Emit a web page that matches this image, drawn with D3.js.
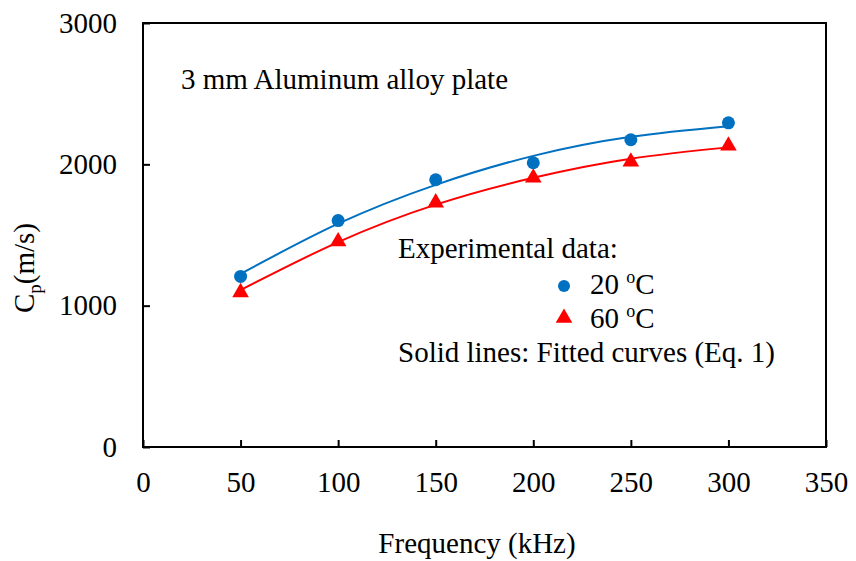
<!DOCTYPE html>
<html><head><meta charset="utf-8">
<script src="https://cdn.jsdelivr.net/npm/d3@7"></script>
<style>body{margin:0;background:#fff}</style>
</head><body><svg id="c" width="856" height="561"></svg>
<script>
const freq = [50, 100, 150, 200, 250, 300];
const exp20 = [1207, 1602, 1891, 2011, 2174, 2294];
const exp60 = [1094, 1454, 1729, 1905, 2018, 2131];
const fit20 = [1225, 1580, 1855, 2060, 2195, 2270];
const fit60 = [1110, 1450, 1715, 1905, 2040, 2120];
const xTicks = [0, 50, 100, 150, 200, 250, 300, 350];
const yTicks = [0, 1000, 2000, 3000];

const FONT = "'Times New Roman', Times, 'Liberation Serif', Tinos, 'Noto Serif', 'DejaVu Serif', serif";
const svg = d3.select("#c").attr("font-family", FONT);
const L = 143, R = 826, T = 23, B = 447;
const x = d3.scaleLinear().domain([0, 350]).range([L, R]);
const y = d3.scaleLinear().domain([0, 3000]).range([B, T]);
const FS = 29;

svg.append("rect").attr("x", L).attr("y", T).attr("width", R - L).attr("height", B - T)
  .attr("fill", "none").attr("stroke", "#000").attr("stroke-width", 2);

const xa = svg.append("g").attr("transform", `translate(0,${B})`)
  .call(d3.axisBottom(x).tickValues(xTicks).tickSize(-7).tickPadding(24).tickFormat(d3.format("d")));
const ya = svg.append("g").attr("transform", `translate(${L},0)`)
  .call(d3.axisLeft(y).tickValues(yTicks).tickSize(-7).tickPadding(26).tickFormat(d3.format("d")));
[xa, ya].forEach(a => {
  a.attr("font-family", FONT);
  a.select(".domain").remove();
  a.selectAll("line").attr("stroke", "#000").attr("stroke-width", 2);
  a.selectAll("text").attr("font-size", FS).attr("fill", "#000");
});

const line = d3.line().x((d, i) => x(freq[i])).y(d => y(d)).curve(d3.curveNatural);
svg.append("path").attr("d", line(fit20)).attr("fill", "none").attr("stroke", "#0070C0").attr("stroke-width", 2);
svg.append("path").attr("d", line(fit60)).attr("fill", "none").attr("stroke", "#FF0000").attr("stroke-width", 2);

svg.selectAll(".c20").data(exp20).enter().append("circle")
  .attr("cx", (d, i) => x(freq[i])).attr("cy", d => y(d)).attr("r", 6.5).attr("fill", "#0070C0");
const tri = d3.symbol().type(d3.symbolTriangle).size(120);
svg.selectAll(".t60").data(exp60).enter().append("path")
  .attr("d", tri).attr("transform", (d, i) => `translate(${x(freq[i])},${y(d)})`).attr("fill", "#FF0000");

svg.append("text").attr("x", 181).attr("y", 89).attr("font-size", FS).text("3 mm Aluminum alloy plate");
svg.append("text").attr("x", 398).attr("y", 258).attr("font-size", FS).text("Experimental data:");
svg.append("circle").attr("cx", 564).attr("cy", 286).attr("r", 6).attr("fill", "#0070C0");
svg.append("path").attr("d", tri).attr("transform", "translate(564,318)").attr("fill", "#FF0000");
const t20 = svg.append("text").attr("x", 590).attr("y", 294).attr("font-size", FS);
t20.append("tspan").text("20 ");
t20.append("tspan").attr("font-size", 18).attr("dy", -11).text("o");
t20.append("tspan").attr("dy", 11).text("C");
const t60 = svg.append("text").attr("x", 590).attr("y", 328).attr("font-size", FS);
t60.append("tspan").text("60 ");
t60.append("tspan").attr("font-size", 18).attr("dy", -11).text("o");
t60.append("tspan").attr("dy", 11).text("C");
svg.append("text").attr("x", 398).attr("y", 362).attr("font-size", FS).text("Solid lines: Fitted curves (Eq. 1)");

svg.append("text").attr("x", 477).attr("y", 553).attr("text-anchor", "middle").attr("font-size", FS).text("Frequency (kHz)");
const yl = svg.append("text").attr("transform", "translate(34,268) rotate(-90)").attr("text-anchor", "middle").attr("font-size", FS);
yl.append("tspan").text("C");
yl.append("tspan").attr("font-size", 19).attr("dy", 7).text("p");
yl.append("tspan").attr("dy", -7).text("(m/s)");
</script></body></html>
